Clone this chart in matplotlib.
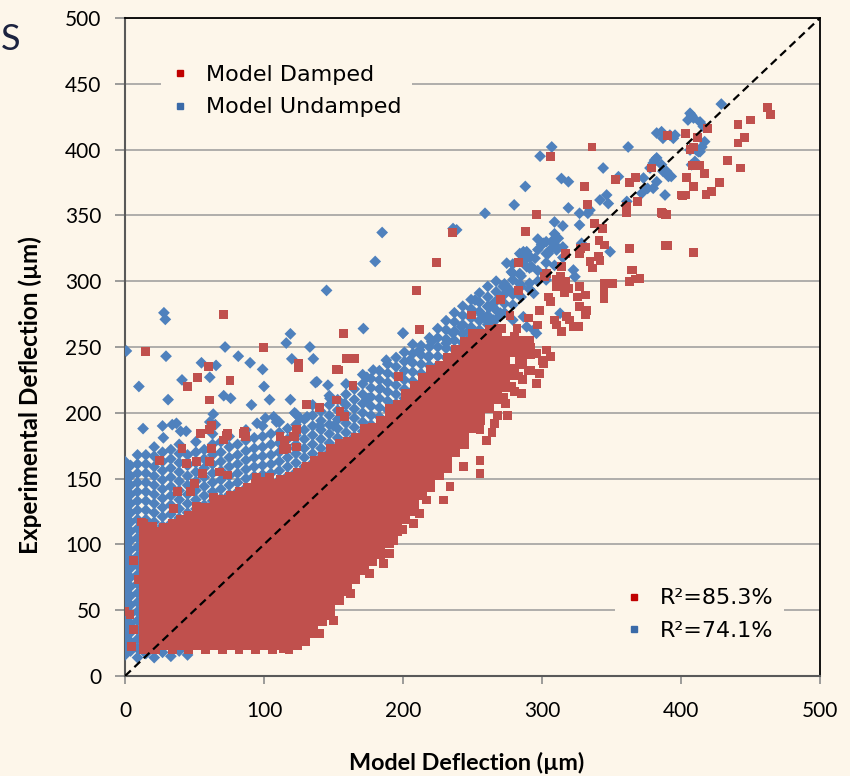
import matplotlib
matplotlib.use('Agg')
import matplotlib.pyplot as plt
from matplotlib.lines import Line2D

plt.rcParams['font.family'] = ['Lato', 'DejaVu Sans']

BG = '#FDF6EA'
RED = '#C0504D'
BLUE = '#4F81BD'

# ---------------- data (read/estimated from the picture) ----------------
# dense core of "Model Damped": x column -> list of y values
damped_core_x = [13, 17, 22, 28, 34, 40, 46, 52, 58, 64, 70, 76, 82, 88, 94, 100, 106, 112, 118, 124,
                 130, 136, 142, 148, 154, 160, 166, 172, 178, 184, 190, 196, 202, 208, 214, 220, 226,
                 232, 238, 244, 250, 256, 262, 268, 274, 280, 286, 292]
damped_core_y = [
    [20, 26, 32, 38, 44, 50, 56, 62, 68, 74, 80, 86, 92, 98, 104, 110, 116],
    [23, 29, 35, 41, 47, 53, 59, 65, 71, 77, 83, 89, 95, 101, 107, 113],
    [20, 26, 32, 38, 44, 50, 56, 62, 68, 74, 80, 86, 92, 98, 104, 110],
    [23, 29, 35, 41, 47, 53, 59, 65, 71, 77, 83, 89, 95, 101, 107, 113],
    [20, 26, 32, 38, 44, 50, 56, 62, 68, 74, 80, 86, 92, 98, 104, 110, 116],
    [23, 29, 35, 41, 47, 53, 59, 65, 71, 77, 83, 89, 95, 101, 107, 113, 119],
    [20, 26, 32, 38, 44, 50, 56, 62, 68, 74, 80, 86, 92, 98, 104, 110, 116, 122],
    [23, 29, 35, 41, 47, 53, 59, 65, 71, 77, 83, 89, 95, 101, 107, 113, 119, 125],
    [20, 26, 32, 38, 44, 50, 56, 62, 68, 74, 80, 86, 92, 98, 104, 110, 116, 122, 128],
    [23, 29, 35, 41, 47, 53, 59, 65, 71, 77, 83, 89, 95, 101, 107, 113, 119, 125, 131],
    [20, 26, 32, 38, 44, 50, 56, 62, 68, 74, 80, 86, 92, 98, 104, 110, 116, 122, 128, 134],
    [23, 29, 35, 41, 47, 53, 59, 65, 71, 77, 83, 89, 95, 101, 107, 113, 119, 125, 131, 137],
    [20, 26, 32, 38, 44, 50, 56, 62, 68, 74, 80, 86, 92, 98, 104, 110, 116, 122, 128, 134, 140],
    [23, 29, 35, 41, 47, 53, 59, 65, 71, 77, 83, 89, 95, 101, 107, 113, 119, 125, 131, 137, 143],
    [20, 26, 32, 38, 44, 50, 56, 62, 68, 74, 80, 86, 92, 98, 104, 110, 116, 122, 128, 134, 140, 146],
    [23, 29, 35, 41, 47, 53, 59, 65, 71, 77, 83, 89, 95, 101, 107, 113, 119, 125, 131, 137, 143, 148],
    [20, 26, 32, 38, 44, 50, 56, 62, 68, 74, 80, 86, 92, 98, 104, 110, 116, 122, 128, 134, 140, 146],
    [23, 29, 35, 41, 47, 53, 59, 65, 71, 77, 83, 89, 95, 101, 107, 113, 119, 125, 131, 137, 143, 149],
    [20, 26, 32, 38, 44, 50, 56, 62, 68, 74, 80, 86, 92, 98, 104, 110, 116, 122, 128, 134, 140, 146, 152],
    [23, 29, 35, 41, 47, 53, 59, 65, 71, 77, 83, 89, 95, 101, 107, 113, 119, 125, 131, 137, 143, 149, 155],
    [26, 32, 38, 44, 50, 56, 62, 68, 74, 80, 86, 92, 98, 104, 110, 116, 122, 128, 134, 140, 146, 152, 158],
    [32, 38, 44, 50, 56, 62, 68, 74, 80, 86, 92, 98, 104, 110, 116, 122, 128, 134, 140, 146, 152, 158, 164],
    [41, 47, 53, 59, 65, 71, 77, 83, 89, 95, 101, 107, 113, 119, 125, 131, 137, 143, 149, 155, 161, 167],
    [48, 54, 60, 66, 72, 78, 84, 90, 96, 102, 108, 114, 120, 126, 132, 138, 144, 150, 156, 162, 168, 173],
    [57, 63, 69, 75, 81, 87, 93, 99, 105, 111, 117, 123, 129, 135, 141, 147, 153, 159, 165, 171, 177],
    [64, 70, 76, 82, 88, 94, 100, 106, 112, 118, 124, 130, 136, 142, 148, 154, 160, 166, 172, 178],
    [73, 79, 85, 91, 97, 103, 109, 115, 121, 127, 133, 139, 145, 151, 157, 163, 169, 175, 181],
    [80, 86, 92, 98, 104, 110, 116, 122, 128, 134, 140, 146, 152, 158, 164, 170, 176, 182, 188],
    [87, 93, 99, 105, 111, 117, 123, 129, 135, 141, 147, 153, 159, 165, 171, 177, 183, 189],
    [92, 98, 104, 110, 116, 122, 128, 134, 140, 146, 152, 158, 164, 170, 176, 182, 188, 194],
    [101, 107, 113, 119, 125, 131, 137, 143, 149, 155, 161, 167, 173, 179, 185, 191, 197, 203],
    [110, 116, 122, 128, 134, 140, 146, 152, 158, 164, 170, 176, 182, 188, 194, 200, 206],
    [119, 125, 131, 137, 143, 149, 155, 161, 167, 173, 179, 185, 191, 197, 203, 209, 215],
    [125, 131, 137, 143, 149, 155, 161, 167, 173, 179, 185, 191, 197, 203, 209, 215, 221],
    [137, 143, 149, 155, 161, 167, 173, 179, 185, 191, 197, 203, 209, 215, 221, 227],
    [143, 149, 155, 161, 167, 173, 179, 185, 191, 197, 203, 209, 215, 221, 227, 233],
    [152, 158, 164, 170, 176, 182, 188, 194, 200, 206, 212, 218, 224, 230, 236],
    [158, 164, 170, 176, 182, 188, 194, 200, 206, 212, 218, 224, 230, 236, 242],
    [170, 176, 182, 188, 194, 200, 206, 212, 218, 224, 230, 236, 242, 248],
    [176, 182, 188, 194, 200, 206, 212, 218, 224, 230, 236, 242, 248, 254],
    [188, 194, 200, 206, 212, 218, 224, 230, 236, 242, 248, 254, 260],
    [194, 200, 206, 212, 218, 224, 230, 236, 242, 248, 254, 260],
    [203, 209, 215, 221, 227, 233, 239, 245, 251, 257, 263],
    [198, 210, 216, 222, 228, 234, 240, 246, 252, 258, 264],
    [207, 219, 225, 231, 237, 243, 249, 255],
    [216, 228, 234, 246, 252, 258],
    [225, 237, 243, 249, 255],
    [232, 244, 250],
]

# scattered "Model Damped" points (x, y)
damped_scatter = [
    (462, 432), (464.5, 427), (450, 422.5), (441, 419), (446, 409), (441, 405), (433.5, 392), (443, 386),
    (428, 375), (422, 368), (418, 366), (409, 372), (404, 379), (417, 382), (413, 388), (408, 388),
    (401, 365), (387, 351.6), (389, 350.8), (389, 327), (409, 322), (390, 411), (403, 412), (419, 416),
    (412, 409), (406.5, 400), (409, 402), (379, 386), (370.5, 302), (400.5, 365.5), (403, 365.5),
    (363, 325), (365, 308.5), (367, 301.7), (363, 300), (351, 298), (336, 402), (306, 395), (353, 377),
    (363, 375), (367, 379), (330.5, 372), (333, 358), (361, 357), (361, 352), (368.5, 360.5), (296, 351),
    (288, 338), (235.5, 337), (224, 314), (210, 293), (338, 344), (343.5, 340), (341, 331), (345, 327.5),
    (340.5, 318.6), (334.5, 315), (336.5, 310), (341.7, 316), (331, 326), (327, 321), (328, 325),
    (317, 321), (314, 311), (313, 303.5), (310.5, 296), (317, 299.6), (319, 294.6), (327, 296),
    (325.5, 288), (327, 280.6), (331, 274.3), (331, 289.5), (332, 278), (344.6, 298), (344.6, 292),
    (344.6, 287), (303, 306), (302, 303.5), (310.5, 301), (313, 296), (316.5, 291), (304.5, 288),
    (306, 284.6), (298.5, 278), (290, 272), (297, 266.7), (309, 270.5), (310.5, 266.7), (317.7, 273),
    (320, 270.5), (322.5, 265.5), (326, 265.5), (314, 261.6), (283, 314), (283, 293), (270, 286),
    (277, 274), (282, 264), (271, 264), (261, 260), (386, 352), (389.6, 351), (390, 327), (364.5, 308.5),
    (272, 255), (282, 255), (286.6, 253), (291.4, 255), (277, 247.7), (286.6, 245), (296, 245),
    (303, 247.7), (306, 242.6), (301, 237.6), (284, 238.8), (262.6, 255), (258, 247.7), (265, 242.6),
    (260, 236.3), (249.4, 274.3), (211.7, 263), (157, 260.4), (159.5, 241.4), (165.5, 241.4),
    (153.5, 232.5), (124.7, 236.3), (164, 221), (152, 209.7), (130.7, 206), (140, 204), (196.6, 227.4),
    (154.7, 201), (158, 197), (123.5, 187), (122, 182), (116, 173), (115, 179),
    (71, 275), (15, 246.5), (99.5, 249.8), (125, 237.6), (125, 234.5), (60, 235), (52, 227), (45, 220),
    (75.5, 224.4), (60.6, 209.7), (152, 233), (62, 190), (54.5, 184), (74, 184.4), (71, 179.3),
    (86, 185.6), (87, 182), (41, 173), (62, 173), (61, 187), (25, 164), (44, 161.6), (51.6, 162.8),
    (61, 162.8), (56, 154), (68, 155), (74, 152.7), (38, 140), (47, 140), (50, 146.4), (63.5, 136),
    (35, 127.5), (85, 184.4), (73, 183), (94.7, 151), (99.5, 146), (111.5, 182), (121, 182), (114, 172),
    (123.5, 174), (130.7, 159), (12, 117), (20, 113.5), (18, 99.5), (6, 88), (9.6, 73), (0, 49),
    (3.6, 46.4), (6, 35), (4.8, 22.3), (18, 19.8), (104, 151), (51.6, 128.7), (62.4, 190.7),
    (255.4, 187), (260, 179), (255.4, 164), (255.4, 154), (243.4, 159), (233.8, 144), (229, 133.7),
    (217, 133.7), (212, 123.5), (207.4, 116), (200, 111), (193, 103), (190.6, 93), (186, 85.5),
    (176, 78), (169, 83), (162, 62.6), (121, 33), (133, 35), (118.7, 25), (114, 21), (140, 32),
    (147.5, 46), (150, 42),
    (266, 192), (272, 212), (278, 220), (270, 225), (276, 232), (283, 228), (290, 232), (264, 185),
    (298, 230), (275, 198), (285, 215), (296, 222), (300, 240),
]

# "Model Undamped" band above the damped cloud: x column -> list of y values
undamped_band_x = [0, 4, 9, 15, 21, 27, 33, 39, 45, 51, 57, 63, 69, 75, 81, 87, 93, 99, 105, 111, 117,
                   123, 129, 135, 141, 147, 153, 159, 165, 171, 177, 183, 189, 195, 201, 207, 213, 219,
                   225, 231, 237, 243, 249, 255, 261, 267, 273, 279, 285, 291, 297, 303, 309, 315]
undamped_band_y = [
    [16, 23, 30, 37, 44, 51, 58, 65, 72, 79, 86, 93, 100, 107, 114, 121, 128, 135, 142, 149, 156, 163],
    [19, 26, 33, 40, 47, 54, 61, 68, 75, 82, 89, 96, 103, 110, 117, 124, 131, 138, 145, 152, 160],
    [14, 21, 28, 35, 42, 49, 56, 63, 70, 77, 84, 91, 98, 105, 112, 119, 126, 133, 140, 147, 154, 161, 168],
    [17, 112, 119, 126, 133, 140, 147, 154, 161, 168],
    [14, 110, 117, 124, 131, 138, 145, 152, 159, 167, 174],
    [18, 114, 121, 128, 135, 142, 149, 156, 163, 170],
    [15, 116, 123, 130, 137, 144, 151, 158, 165, 172],
    [19, 120, 127, 134, 141, 148, 155, 162, 169, 176],
    [16, 124, 131, 138, 145, 152, 160, 168],
    [127, 134, 141, 148, 155, 162, 170, 178],
    [130, 137, 144, 151, 158, 165, 172],
    [133, 140, 147, 154, 161, 168, 176, 184],
    [135, 142, 149, 156, 163, 170, 178],
    [138, 145, 152, 159, 166, 174, 182],
    [140, 147, 154, 161, 168, 176],
    [143, 150, 157, 164, 171, 179, 187],
    [145, 152, 159, 166, 173, 181],
    [146, 153, 160, 167, 174, 182, 190],
    [147, 154, 161, 168, 176, 184],
    [149, 156, 163, 170, 177, 185, 193],
    [152, 159, 166, 173, 180, 188],
    [155, 162, 169, 176, 183, 191, 199],
    [159, 166, 173, 180, 187, 195],
    [162, 169, 176, 183, 190, 198, 206],
    [166, 173, 180, 187, 194, 201],
    [170, 177, 184, 191, 198, 206, 213],
    [174, 181, 188, 195, 202, 210],
    [178, 185, 192, 199, 206, 214, 222],
    [182, 189, 196, 203, 210, 218],
    [186, 193, 200, 207, 214, 222, 229],
    [191, 198, 205, 212, 219, 226],
    [197, 204, 211, 218, 225, 232],
    [202, 209, 216, 223, 230, 237],
    [207, 214, 221, 228, 235, 242],
    [211, 218, 225, 232, 239, 246],
    [217, 224, 231, 238, 245, 252],
    [223, 230, 237, 244, 251],
    [229, 236, 243, 250, 257],
    [236, 243, 250, 257, 264],
    [242, 249, 256, 263, 270],
    [248, 255, 262, 269, 276],
    [253, 260, 267, 274, 281],
    [258, 265, 272, 279, 286],
    [263, 270, 277, 284, 291],
    [267, 274, 281, 288, 296],
    [271, 278, 285, 292, 300],
    [276, 283, 290, 298],
    [282, 290, 306, 313],
    [288, 296, 304, 320],
    [294, 310, 318],
    [300, 308, 324, 332],
    [306, 314, 330],
    [312, 328, 336],
    [318, 326, 342],
]

# scattered "Model Undamped" points (x, y)
undamped_scatter = [
    (1, 247), (28, 276), (29, 271), (29.5, 243), (10, 220), (31, 210), (41, 225), (55, 238), (61, 227),
    (65.5, 236), (72, 250), (81.5, 243), (90, 238), (99, 233), (100, 220), (71, 213), (76, 211), (91, 206),
    (104, 210), (119, 260), (116, 253), (133, 250), (135.5, 241), (120, 241), (145, 293), (137, 223),
    (146, 221), (119, 210), (122, 200), (131, 197), (147.5, 211), (13, 188), (27, 190), (34, 191),
    (37, 192), (63.5, 199), (27.6, 181), (40, 186), (44, 186), (61, 193), (65, 191), (95, 192),
    (101, 196), (107, 197), (109, 193), (126, 196), (140, 190), (150, 190), (155, 197),
    (180, 315), (185, 337), (171.5, 264), (200, 260.6), (188, 240), (178.6, 232.5), (174, 227),
    (183.5, 218.6), (175, 211), (138, 223.6), (158, 207),
    (236, 340), (238.6, 339), (259, 351.6), (280, 358), (288, 372), (298.6, 395), (307, 402), (314, 378),
    (319, 375.6), (344, 386), (362, 402),
    (382.5, 412.6), (392, 411), (406.5, 427.6), (409, 424), (413.7, 421), (429, 434.6), (417, 406),
    (413.7, 398.4), (410, 391), (389.6, 383.5), (393, 379.6), (380, 389.8), (382.5, 393.7), (380, 370.6),
    (388.5, 365.5), (346.5, 365.5), (341.7, 361.7), (355, 379.4), (327, 351.6), (333, 351.6),
    (319, 355.7), (309, 345), (327, 342.7), (349, 322.4), (322.6, 308.5), (323.7, 303.4), (301, 328.8),
    (308, 331.3), (303, 321), (310.5, 323.7), (284, 321), (286.6, 315), (289, 322.4), (292.5, 311),
    (274.6, 313.7), (279, 301), (274.6, 296), (282, 291), (251.8, 285.7), (262.6, 280.6), (270, 275.6),
    (256.6, 274.3), (265, 270.5), (242, 265.4), (248, 263), (236, 260.4), (231, 252.8), (220.6, 254),
    (212, 247.7), (200, 260.4), (218, 242.6), (205, 240),
    (386, 413.6), (387, 408.6), (395.7, 411), (394.5, 408.6), (407.6, 426), (405, 422.5), (416, 417.6),
    (415, 402), (412.5, 398.4), (406.5, 399.7), (411, 399.7), (381, 392), (377.7, 386), (386, 388.5),
    (387, 383.5), (391, 379.6), (382.5, 375.6), (371.7, 366.8), (407.6, 388.5), (373, 378.4),
    (376, 370.5), (361, 360.6), (347.7, 359), (334.5, 354), (299.7, 328), (307, 325), (311.7, 332.6),
    (304.5, 321), (286.6, 322.4), (291.4, 318.6), (295, 317.4), (278, 307), (284, 305.8), (289, 311),
    (272, 296), (277, 293), (284, 298), (291, 298.4), (294, 290.8), (303, 301), (328.5, 328.8),
    (313, 275.6), (294, 263), (296, 260.4), (265, 283), (270, 275.6), (260, 270.5), (261, 280.6),
    (279, 270.5), (286.6, 273), (289, 265.4),
]

legend_labels = ['Model Damped', 'Model Undamped']
r2_labels = ['R\u00b2=85.3%', 'R\u00b2=74.1%']
x_ticks = [0, 100, 200, 300, 400, 500]
y_ticks = [0, 50, 100, 150, 200, 250, 300, 350, 400, 450, 500]
diag = [0, 500]

# ---------------- assemble ----------------
def expand(xs, cols):
    px = [x for x, ys in zip(xs, cols) for _ in ys]
    py = [y for ys in cols for y in ys]
    return px, py

dcx, dcy = expand(damped_core_x, damped_core_y)
ubx, uby = expand(undamped_band_x, undamped_band_y)
dsx = [p[0] for p in damped_scatter]
dsy = [p[1] for p in damped_scatter]
usx = [p[0] for p in undamped_scatter]
usy = [p[1] for p in undamped_scatter]

fig = plt.figure(figsize=(8.5, 7.76), dpi=100, facecolor=BG)
ax = fig.add_axes([125 / 850, 100 / 776, 695 / 850, 658 / 776])
ax.set_facecolor(BG)

ax.scatter(ubx + usx, uby + usy, marker='D', s=6.0 ** 2, c=BLUE, edgecolors='none', zorder=3)
ax.scatter(dcx + dsx, dcy + dsy, marker='s', s=6.4 ** 2, c=RED, edgecolors='none', zorder=4)
ax.plot(diag, diag, color='black', lw=1.6, ls=(0, (3.6, 2.2)), zorder=5)

ax.set_xlim(0, 500)
ax.set_ylim(0, 500)
ax.set_xticks(x_ticks)
ax.set_yticks(y_ticks)
ax.yaxis.grid(True, color='#9A9A9A', lw=1.1)
ax.set_axisbelow(True)
ax.tick_params(axis='y', length=7, width=1.2, color='#8C8C8C', pad=10, labelsize=15)
ax.tick_params(axis='x', length=6, width=1.2, color='#8C8C8C', pad=12, labelsize=15)
for s in ['left', 'bottom']:
    ax.spines[s].set_color('#595959')
    ax.spines[s].set_linewidth(1.5)
for s in ['top', 'right']:
    ax.spines[s].set_color('black')
    ax.spines[s].set_linewidth(1.3)

h = [Line2D([], [], ls='none', marker='s', ms=4.6, color='#C00000'),
     Line2D([], [], ls='none', marker='s', ms=4.6, color='#3A6AA8')]
lkw = dict(frameon=True, facecolor=BG, edgecolor='none', framealpha=1,
           prop={'family': 'DejaVu Sans', 'size': 16},
           handlelength=0.7, handletextpad=0.8, labelspacing=0.55, borderpad=0.5)
leg1 = ax.legend(h, legend_labels, loc='upper left', bbox_to_anchor=(0.036, 0.962), **lkw)
leg1.set_zorder(6)
ax.add_artist(leg1)
leg2 = ax.legend(h, r2_labels, loc='lower left', bbox_to_anchor=((604 - 125) / 695, 0.02), **lkw)
leg2.set_zorder(6)

fig.text(467 / 850, 1 - 763 / 776, 'Model Deflection (\u00b5m)', fontsize=16.8, fontweight='bold',
         ha='center', va='center')
fig.text(30 / 850, 1 - 395 / 776, 'Experimental Deflection (\u00b5m)', fontsize=17.5, fontweight='bold',
         ha='center', va='center', rotation=90)
fig.text(0.5 / 850, 1 - 40 / 776, 'S', fontsize=26, color='#1C2340', ha='left', va='center')

fig.savefig('out.png', dpi=100, facecolor=BG)
